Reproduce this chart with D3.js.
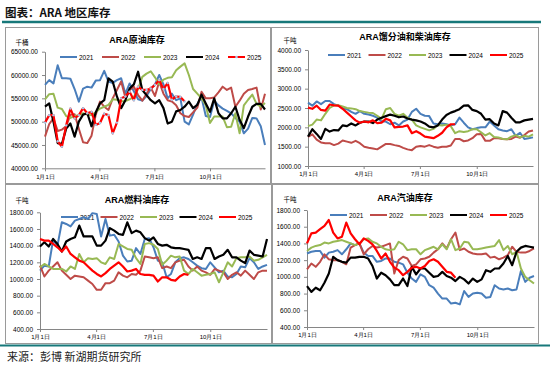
<!DOCTYPE html>
<html>
<head>
<meta charset="utf-8">
<script src="https://cdn.jsdelivr.net/npm/d3@7"></script>
<style>
body { margin: 0; background: #fff; }
svg { display: block; font-family: "Liberation Sans", "Noto Sans CJK SC", sans-serif; }
</style>
</head>
<body>
<svg id="chart" width="550" height="368"></svg>
<script>
// series labels and colours (weekly data, week i = day 7*i)
const years = ["2021", "2022", "2023", "2024", "2025"];
const colors = ["#4a7ebb", "#be4b48", "#98b954", "#000000", "#ff0000"];
const tickDays = [0, 90, 181, 273];
const tickLabels = ["1月1日", "4月1日", "7月1日", "10月1日"];

// ARA 原油库存 (千桶)
const crude2021 = [57900,58900,58200,62100,59300,59300,59200,57000,54300,57100,57500,57300,58800,58900,60900,58600,58300,58900,59300,56000,58200,56500,54800,54500,55500,57000,58000,60000,58000,55000,56000,54600,55000,50000,49400,51500,53800,55200,51200,51000,54500,53500,52800,52300,51800,50800,50000,47500,48500,50800,50700,49000,45000];
const crude2022 = [46800,49500,50700,48000,48300,49000,51500,51600,48500,45600,45400,47000,51500,54300,53200,52500,55000,56800,58600,55200,56800,57500,55700,54500,56000,57300,55500,58600,56000,54600,54300,53500,51800,51200,51000,52000,53000,56400,55000,55000,55200,56300,57500,56800,57300,53200,54500,56000,56800,57000,57300,52600,56000];
const crude2023 = [54800,55900,56000,53000,52700,51200,50800,51200,51400,51800,51500,51400,52000,52800,53200,53600,54800,54700,54400,54400,54800,55300,57000,59600,60300,60800,59500,58000,59000,59400,59500,61000,61800,62500,60000,57000,56000,55000,53500,49700,51100,51100,51100,48800,48900,51800,47500,53500,54700,55800,53800,53200,54000];
const crude2024 = [53200,53900,50000,45400,45200,48500,49600,46800,50000,51500,51800,49000,52000,53900,54600,59300,58600,55400,52900,54600,57100,58000,60700,56800,55700,54600,53900,54600,52900,49600,50000,52200,52500,53200,54300,52900,53600,55800,53900,52100,55000,51800,50700,50700,51800,53200,50400,48600,51100,53200,53800,53800,52600];
const crude2025 = [49800,51400,51400,45800,44600,49200,52800,50700,51400,52900,51800,52100,49300,49700,51700,51400,47500,49800,55000,55400,56400,54600,57500,56800,56800,57100,57900,58900,57000,58300,54700,55400,55300,54300];
const crudeTicks = [40000, 45000, 50000, 55000, 60000, 65000];

// ARA 馏分油和柴油库存 (千吨)
const dist2021 = [2640,2560,2670,2600,2680,2680,2600,2560,2500,2470,2400,2350,2420,2350,2330,2300,2250,2150,2150,2080,2120,2050,2150,2200,2400,2480,2350,2300,2290,2100,2080,2100,2080,2050,2080,2250,2120,2000,1950,1980,2000,2000,2150,2050,1950,1920,1900,1950,1780,1860,1700,1720,1740];
const dist2022 = [1750,1820,1680,1610,1590,1590,1540,1580,1660,1630,1600,1650,1590,1500,1470,1450,1430,1500,1570,1570,1540,1520,1470,1430,1410,1500,1520,1500,1540,1500,1470,1500,1500,1530,1700,1700,1640,1660,1720,1820,1830,1650,1650,1720,1720,1700,1690,1700,1760,1730,1800,1890,1920];
const dist2023 = [2030,2070,2200,2180,2350,2500,2570,2570,2540,2500,2490,2470,2420,2400,2380,2370,2300,2220,2470,2500,2350,2300,2350,2250,2200,2050,2000,1960,1920,1960,2060,2050,2070,2030,1850,1900,1880,1900,1950,1950,1870,1790,1850,1750,1740,1700,1690,1760,1800,1740,1780,1760,1820];
const dist2024 = [1760,1950,1830,1700,1960,1890,1930,1920,2050,2030,2100,2050,2120,2150,2150,2110,2200,2250,2290,2330,2300,2260,2280,2230,2200,2180,2150,2100,2020,2000,2050,2200,2320,2380,2420,2470,2560,2570,2450,2420,2350,2200,2210,2100,2050,2420,2380,2250,2130,2130,2180,2200,2220];
const dist2025 = [2510,2480,2560,2450,2430,2590,2570,2560,2480,2380,2280,2180,2120,2150,2130,2180,2110,2120,2220,2180,2000,2010,2020,2050,1850,1900,1840,1760,1740,1720,1780,1860,2000,2080,2080];
const distTicks = [1000, 1500, 2000, 2500, 3000, 3500, 4000];

// ARA 燃料油库存 (千吨)
const fuel2021 = [1100,1160,1150,1470,1400,1680,1660,1630,1700,1720,1740,1720,1790,1780,1510,1720,1520,1530,1450,1280,1210,1220,1370,1300,1480,1490,1380,1220,1200,1020,1060,1200,1250,1260,1240,1200,1160,1130,1120,1200,1140,1080,1100,1030,1020,1060,1150,1140,1250,1200,1120,1150,1170];
const fuel2022 = [1160,1030,1100,1150,1200,1100,1050,1000,1040,1030,1020,980,940,870,870,950,950,980,1080,1040,1020,1060,1050,1100,1270,1260,1250,1260,1130,1150,1130,1200,1220,1230,1150,1100,1150,1100,1080,1050,1120,1100,1080,1000,1050,1080,1040,1100,1050,1000,1080,1100,1100];
const fuel2023 = [1140,1180,1150,1120,1120,1120,1090,1150,1120,1300,1200,1250,1240,1250,1200,1180,1260,1240,1420,1390,1360,1350,1250,1180,1420,1430,1410,1360,1170,1220,1280,1260,1270,1100,1060,1120,1080,1040,1050,1060,1080,960,1080,1200,1150,1250,1260,1260,1270,1220,1230,1260,1290];
const fuel2024 = [1390,1440,1390,1480,1420,1330,1450,1480,1500,1640,1510,1510,1510,1400,1400,1460,1610,1580,1540,1530,1680,1550,1580,1560,1490,1460,1500,1420,1400,1410,1380,1370,1370,1360,1350,1240,1260,1240,1370,1370,1240,1270,1290,1350,1260,1260,1220,1190,1340,1290,1280,1270,1480];
const fuel2025 = [1480,1460,1460,1420,1380,1330,1390,1300,1260,1220,1200,1150,1100,1060,1030,1070,1120,1160,1200,1150,1090,1100,1120,1060,1050,1050,1040,970,1020,1020,990,980,1030,1060,1050];
const fuelTicks = [400, 600, 800, 1000, 1200, 1400, 1600, 1800];

// ARA 汽油库存 (千吨)
const gas2021 = [1280,1300,1310,1310,1230,1290,1300,1320,1270,1330,1400,1380,1400,1290,1250,1250,1180,1190,1220,1220,1180,1170,1150,1050,980,940,1030,1000,900,870,800,740,740,680,690,670,830,760,800,810,800,750,760,900,860,850,860,840,850,1070,940,990,1010];
const gas2022 = [1090,1160,1120,1180,1270,1210,1200,1200,1180,1150,1350,1380,1400,1270,1330,1370,1350,1360,1380,1400,1040,1200,1240,1220,1130,1150,1210,1220,1240,1290,1330,1400,1340,1450,1530,1320,1340,1300,1280,1270,1270,1280,1230,1240,1210,1230,1260,1360,1300,1290,1290,1310,1340];
const gas2023 = [1310,1350,1370,1380,1410,1400,1420,1430,1440,1420,1400,1380,1400,1450,1460,1420,1400,1360,1330,1320,1330,1420,1390,1320,1330,1330,1270,1320,1340,1360,1330,1390,1330,1450,1320,1340,1420,1410,1330,1330,1340,1350,1360,1370,1440,1320,1370,1270,1300,1100,1000,960,920];
const gas2024 = [890,820,870,840,930,1040,1240,1200,1180,1170,1230,1230,1240,1240,1220,1130,980,1050,1020,970,900,900,980,890,1120,1030,1100,1100,1050,1000,1010,1060,1010,990,950,1000,970,920,980,940,970,1080,1060,1100,1100,1160,1250,1140,1300,1350,1370,1360,1350];
const gas2025 = [1400,1520,1530,1570,1610,1680,1530,1460,1480,1650,1520,1450,1390,1460,1430,1390,1310,1220,1280,1180,1110,1080,1020,1060,1110,1120,1100,1130,1190,1210,1180,1120,1060,1050,990];
const gasTicks = [400, 600, 800, 1000, 1200, 1400, 1600, 1800];

const teal = "#17787a";
const svg = d3.select("#chart");

// header + footer
svg.append("text").attr("x", 5).attr("y", 17)
  .attr("font-family", "'Noto Sans CJK SC', sans-serif")
  .attr("font-size", 11.5).attr("font-weight", "bold").attr("fill", "#111")
  .text("图表：ARA 地区库存");
svg.append("line").attr("x1", 2).attr("x2", 541).attr("y1", 22).attr("y2", 22)
  .attr("stroke", teal).attr("stroke-width", 2.5);
svg.append("line").attr("x1", 0).attr("x2", 550).attr("y1", 345.5).attr("y2", 345.5)
  .attr("stroke", teal).attr("stroke-width", 2);
svg.append("text").attr("x", 7).attr("y", 361)
  .attr("font-family", "'Noto Sans CJK SC', sans-serif")
  .attr("font-size", 11).attr("fill", "#222")
  .text("来源：彭博  新湖期货研究所");

const panels = [
  { box: [5, 27, 270, 183], x0: 45, x1: 265, yTop: 51.7, yBot: 168.3, ticks: crudeTicks,
    title: "ARA原油库存", tx: 137, ty: 40, unit: "千桶", ux: 22, uy: 42,
    lx: 79, lstep: 42, ly: 57, markers: true,
    series: [crude2021, crude2022, crude2023, crude2024, crude2025] },
  { box: [271, 27, 538, 183], x0: 308, x1: 533, yTop: 50, yBot: 166, ticks: distTicks,
    title: "ARA馏分油和柴油库存", tx: 405, ty: 37, unit: "千吨", ux: 290, uy: 40,
    lx: 347, lstep: 40.5, ly: 55, markers: false,
    series: [dist2021, dist2022, dist2023, dist2024, dist2025] },
  { box: [5, 184, 271, 343], x0: 40, x1: 267, yTop: 212.3, yBot: 329, ticks: fuelTicks,
    title: "ARA燃料油库存", tx: 137, ty: 200, unit: "千吨", ux: 22, uy: 200,
    lx: 80, lstep: 39.5, ly: 217, markers: false,
    series: [fuel2021, fuel2022, fuel2023, fuel2024, fuel2025] },
  { box: [272, 184, 538, 343], x0: 307, x1: 534, yTop: 210, yBot: 327, ticks: gasTicks,
    title: "ARA汽油库存", tx: 405, ty: 198, unit: "千吨", ux: 290, uy: 199,
    lx: 349, lstep: 40, ly: 215, markers: false,
    series: [gas2021, gas2022, gas2023, gas2024, gas2025] }
];

function drawPanel(p) {
  const g = svg.append("g");
  const b = p.box;
  g.append("rect").attr("x", b[0] + 0.5).attr("y", b[1] + 0.5)
    .attr("width", b[2] - b[0]).attr("height", b[3] - b[1])
    .attr("fill", "none").attr("stroke", "#9a9a9a");

  const x = d3.scaleLinear().domain([0, 364]).range([p.x0, p.x1]);
  const y = d3.scaleLinear().domain([p.ticks[0], p.ticks[p.ticks.length - 1]]).range([p.yBot, p.yTop]);

  const yAxis = g.append("g").attr("transform", "translate(" + p.x0 + ",0)")
    .call(d3.axisLeft(y).tickValues(p.ticks).tickFormat(d3.format(".2f"))
      .tickSize(3).tickSizeOuter(0).tickPadding(4));
  const xAxis = g.append("g").attr("transform", "translate(0," + p.yBot + ")")
    .call(d3.axisBottom(x).tickValues(tickDays).tickFormat((d, i) => tickLabels[i])
      .tickSize(3).tickSizeOuter(0).tickPadding(3));
  [yAxis, xAxis].forEach(a => {
    a.select(".domain").attr("stroke", "#868686");
    a.selectAll(".tick line").attr("stroke", "#868686");
    a.selectAll("text").attr("fill", "#000").attr("font-size", 6.5);
  });
  xAxis.selectAll("text").attr("font-size", 6);

  g.append("text").attr("x", p.tx).attr("y", p.ty).attr("text-anchor", "middle")
    .attr("dominant-baseline", "central").attr("font-size", 9).attr("font-weight", "bold")
    .text(p.title);
  g.append("text").attr("x", p.ux).attr("y", p.uy).attr("text-anchor", "middle")
    .attr("dominant-baseline", "central").attr("font-size", 6.5)
    .text(p.unit);

  // legend (drawn under the lines)
  years.forEach((yr, i) => {
    const tx = p.lx + i * p.lstep;
    g.append("line").attr("x1", tx - 19).attr("x2", tx - 2).attr("y1", p.ly).attr("y2", p.ly)
      .attr("stroke", colors[i]).attr("stroke-width", 2);
    if (p.markers && i === 4) {
      g.append("circle").attr("cx", tx - 10.5).attr("cy", p.ly).attr("r", 1.3).attr("fill", "#a9c8e8");
    }
    g.append("text").attr("x", tx).attr("y", p.ly).attr("dominant-baseline", "central")
      .attr("font-size", 6.5).text(yr);
  });

  const line = d3.line().x((d, i) => x(i * 7)).y(d => y(d));
  p.series.forEach((s, i) => {
    g.append("path").datum(s).attr("d", line).attr("fill", "none")
      .attr("stroke", colors[i]).attr("stroke-width", i >= 3 ? 2.2 : 2)
      .attr("stroke-linejoin", "round");
  });
  if (p.markers) {
    g.selectAll("circle.mk").data(p.series[4]).enter().append("circle")
      .attr("class", "mk").attr("cx", (d, i) => x(i * 7)).attr("cy", d => y(d))
      .attr("r", 1.2).attr("fill", "#a9c8e8");
  }
}

panels.forEach(drawPanel);
</script>
</body>
</html>
